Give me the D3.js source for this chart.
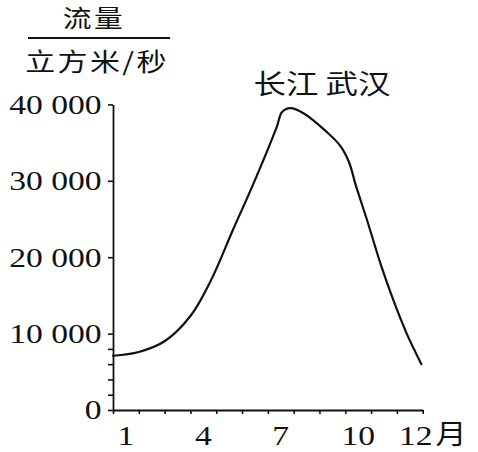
<!DOCTYPE html>
<html>
<head>
<meta charset="utf-8">
<script src="https://cdn.jsdelivr.net/npm/d3@7"></script>
<style>
  html, body { margin: 0; padding: 0; background: #fff; }
  svg { display: block; }
</style>
</head>
<body>
<svg id="chart" width="478" height="452"></svg>
<script>
// ---- data ----
const flowMonth = [0, 1, 2, 3, 3.8, 4.65, 5.4, 6.35, 6.55, 6.87, 7.38, 8.28, 8.8, 9.15, 9.4, 9.83, 10.38, 10.86, 11.38, 11.95];
const flowValue = [7100, 7600, 9000, 12300, 17000, 23600, 29300, 37100, 39000, 39500, 38850, 36400, 34600, 32400, 29500, 25000, 19000, 14400, 10000, 6000];
const yMajorTicks = [0, 10000, 20000, 30000, 40000];
const yMinorTicks = [2000, 4000, 6000, 8000];
const xBoundaryTicks = d3.range(0, 13);
const monthLabels = [1, 4, 7, 10, 12];
const titleTop = "流量";
const titleBottom = "立方米/秒";
const seriesLabel = "长江 武汉";
const xUnit = "月";

const svg = d3.select("#chart");
const serif = "'Liberation Serif', 'Times New Roman', serif";
const cjk = "'Noto Sans CJK SC', sans-serif";
const SX = 1.2;

const x = d3.scaleLinear().domain([0, 12]).range([113, 422.7]);
const y = d3.scaleLinear().domain([0, 40000]).range([410, 104.4]);

const fmt = d => d3.format(",")(d).replace(/,/g, " ");

// y axis (major)
const gy = svg.append("g").attr("transform", `translate(${x(0)},0)`)
  .call(d3.axisLeft(y).tickValues(yMajorTicks).tickSize(5).tickSizeOuter(0).tickFormat(fmt));
gy.select(".domain").attr("stroke", "#111").attr("stroke-width", 1.8);
gy.selectAll(".tick line").attr("stroke", "#111").attr("stroke-width", 1.6);
gy.selectAll(".tick text")
  .attr("font-family", serif).attr("font-size", 28).attr("fill", "#111")
  .attr("x", -11.5 / SX).attr("transform", `scale(${SX},1)`);

// y axis (minor)
const gym = svg.append("g").attr("transform", `translate(${x(0)},0)`)
  .call(d3.axisLeft(y).tickValues(yMinorTicks).tickSize(5).tickSizeOuter(0).tickFormat(""));
gym.select(".domain").remove();
gym.selectAll(".tick line").attr("stroke", "#111").attr("stroke-width", 1.6);

// x axis
const gx = svg.append("g").attr("transform", `translate(0,${y(0)})`)
  .call(d3.axisBottom(x).tickValues(xBoundaryTicks).tickSize(4).tickSizeOuter(0).tickFormat(""));
gx.select(".domain").attr("stroke", "#111").attr("stroke-width", 1.8);
gx.selectAll(".tick line").attr("stroke", "#111").attr("stroke-width", 1.6);

// month labels
svg.append("g").selectAll("text").data(monthLabels).join("text")
  .attr("transform", d => `translate(${x(d - 0.5) + (d === 12 ? 6 : 0)},445) scale(${SX},1)`)
  .attr("text-anchor", "middle")
  .attr("font-family", serif).attr("font-size", 28).attr("fill", "#111")
  .text(d => d);

svg.append("text")
  .attr("transform", `translate(451,444) scale(1.15,1)`)
  .attr("text-anchor", "middle")
  .attr("font-family", cjk).attr("font-size", 27).attr("fill", "#111")
  .text(xUnit);

// title (fraction)
svg.append("text")
  .attr("transform", `translate(94,27) scale(${SX},1)`)
  .attr("text-anchor", "middle").attr("letter-spacing", 2)
  .attr("font-family", cjk).attr("font-size", 24).attr("fill", "#111")
  .text(titleTop);
svg.append("line").attr("x1", 28).attr("x2", 170).attr("y1", 38).attr("y2", 38)
  .attr("stroke", "#111").attr("stroke-width", 2);
svg.append("text")
  .attr("transform", `translate(97,71) scale(${SX},1)`)
  .attr("text-anchor", "middle").attr("letter-spacing", 2)
  .attr("font-family", cjk).attr("font-size", 25).attr("fill", "#111")
  .text(titleBottom);

// series label
svg.append("text")
  .attr("transform", `translate(322,94) scale(1.2,1)`)
  .attr("text-anchor", "middle")
  .attr("font-family", cjk).attr("font-size", 27).attr("fill", "#111")
  .text(seriesLabel);

// flow curve
const pts = flowMonth.map((m, i) => [m, flowValue[i]]);
const line = d3.line().x(d => x(d[0])).y(d => y(d[1])).curve(d3.curveCatmullRom.alpha(0.5));
svg.append("path").datum(pts)
  .attr("fill", "none").attr("stroke", "#111").attr("stroke-width", 2.2)
  .attr("stroke-linejoin", "round").attr("stroke-linecap", "round")
  .attr("d", line);
</script>
</body>
</html>
